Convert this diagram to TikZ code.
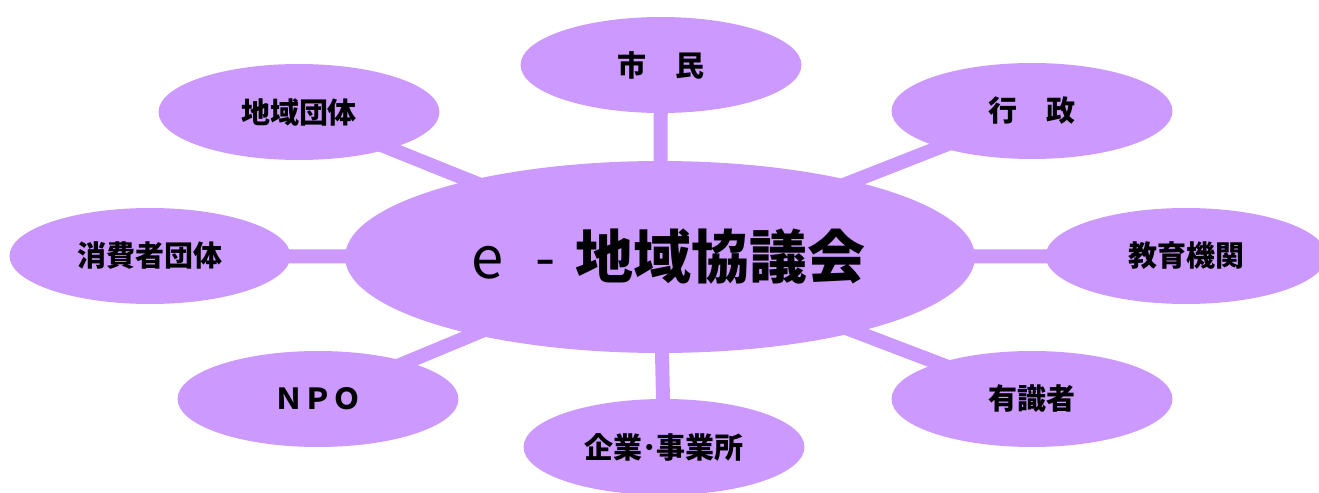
\documentclass[tikz,border=0pt]{standalone}
\usepackage{fontspec}
\newfontfamily\jpfont{Noto Sans CJK JP}
\definecolor{lilac1}{RGB}{204, 153, 255}
\usetikzlibrary{shapes.geometric, backgrounds}
\tikzset{
  hub/.style={ellipse, fill=lilac1, minimum width=12.6cm, minimum height=3.84cm, inner sep=0pt, font=\jpfont\fontsize{33}{36}\selectfont},
  member/.style={ellipse, fill=lilac1, minimum width=5.62cm, minimum height=1.92cm, inner sep=0pt, font=\jpfont\bfseries\fontsize{16.5}{20}\selectfont},
  spoke/.style={line width=0.28cm, draw=lilac1}
}
\begin{document}
\begin{tikzpicture}[x=0.02cm, y=-0.02cm]
  \useasboundingbox (0,0) rectangle (1319,493);
  \node[hub] (council) at (660,257) {\hspace{0.3em}e\hspace{0.55em}-\hspace{0.35em}{\bfseries 地域協議会}};
  \node[member] (citizens) at (661,65) {市　民};
  \node[member] (groups) at (299,112) {地域団体};
  \node[member] (admin) at (1032,111) {行　政};
  \node[member] (consumers) at (150,256) {消費者団体};
  \node[member] (schools) at (1186,256) {教育機関};
  \node[member] (npo) at (318,399) {ＮＰＯ};
  \node[member] (firms) at (664,447) {企業･事業所};
  \node[member] (experts) at (1032,399) {有識者};
  \begin{scope}[on background layer]
    \foreach \m in {citizens, groups, admin, consumers, schools, npo, firms, experts}
      \draw[spoke] (council.center) -- (\m.center);
  \end{scope}
\end{tikzpicture}
\end{document}
